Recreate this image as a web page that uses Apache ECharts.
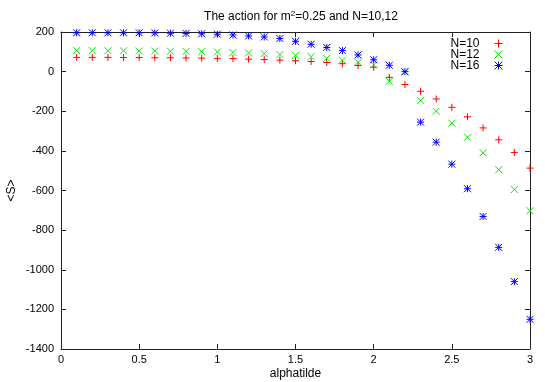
<!DOCTYPE html>
<html>
<head>
<meta charset="utf-8">
<script src="https://cdn.jsdelivr.net/npm/echarts@6/dist/echarts.min.js"></script>
<style>html,body{margin:0;padding:0;background:#fff;}#c{width:545px;height:382px;}</style>
</head>
<body>
<div id="c"></div>
<script>
var alphatilde = [0.1,0.2,0.3,0.4,0.5,0.6,0.7,0.8,0.9,1.0,1.1,1.2,1.3,1.4,1.5,1.6,1.7,1.8,1.9,2.0,2.1,2.2,2.3,2.4,2.5,2.6,2.7,2.8,2.9,3.0];
var sN10 = [72,72,72,71,71,70,70,69,68,67,66,63,61,58,55,51,46,40,31,22,-29,-65,-99,-138,-180,-228,-284,-344,-408,-487];
var sN12 = [106,106,105,105,104,104,103,102,101,99,97,94,91,86,82,76,67,58,47,34,-49,-2,-145,-200,-260,-331,-410,-495,-595,-702];
var sN16 = [196,196,196,196,196,195,194,193,191,189,185,180,175,167,153,138,122,106,84,60,32,0,-255,-356,-467,-591,-731,-887,-1060,-1250];
var xTicks = {min:0, max:3, step:0.5};
var yTicks = {min:-1400, max:200, step:200};
var seriesNames = ['N=10','N=12','N=16'];

function pairs(ys){ return alphatilde.map(function(x,i){ return [x, ys[i]]; }); }

var plus = 'path://M0,-1L0,1M-1,0L1,0';
var cross = 'path://M-1,-1L1,1M-1,1L1,-1';
var star = 'path://M0,-1L0,1M-1,0L1,0M-1,-1L1,1M-1,1L1,-1';

var font = 'Liberation Sans';
var axisColor = '#222';

var chart = echarts.init(document.getElementById('c'));
function mk(name, ys, sym, color, size){
  return {
    name: name, type: 'scatter', data: pairs(ys), symbol: sym, symbolSize: size,
    itemStyle: {color: 'none', borderColor: color, borderWidth: 1, opacity: 1},
    emphasis: {disabled: true}, animation: false
  };
}
function axisCommon(){
  return {
    axisLine: {show: true, onZero: false, lineStyle: {color: axisColor, width: 1}},
    axisTick: {show: true, inside: true, length: 5, lineStyle: {color: axisColor}},
    splitLine: {show: false}
  };
}
chart.setOption({
  animation: false,
  title: {
    text: 'The action for m{sup|2}=0.25 and N=10,12',
    left: 296, top: 5, textAlign: 'center',
    textStyle: {fontFamily: font, fontSize: 12, fontWeight: 'normal', color: '#000',
      rich: {sup: {fontSize: 8, verticalAlign: 'top', padding:[0,0,6,0], fontFamily: font, color:'#000'}}}
  },
  legend: {
    orient: 'vertical', align: 'right', right: 35, top: 32,
    itemWidth: 8, itemHeight: 8, itemGap: -2,
    data: seriesNames,
    itemStyle: {borderWidth: 1},
    textStyle: {fontFamily: font, fontSize: 12, color: '#000', padding: [0, 10, 0, 0]},
    selectedMode: false
  },
  grid: {left: 61, right: 15, top: 32, bottom: 33, containLabel: false, outerBoundsMode: 'none'},
  xAxis: [Object.assign(axisCommon(), {
    type: 'value', min: xTicks.min, max: xTicks.max, interval: xTicks.step,
    name: 'alphatilde', nameLocation: 'middle', nameGap: 19, nameMoveOverlap: false,
    nameTextStyle: {fontFamily: font, fontSize: 12, color: '#000'},
    axisLabel: {fontFamily: font, fontSize: 11, color: '#000', margin: 5}
  }), Object.assign(axisCommon(), {
    type: 'value', position: 'top', min: xTicks.min, max: xTicks.max, interval: xTicks.step,
    axisLabel: {show: false}
  })],
  yAxis: [Object.assign(axisCommon(), {
    type: 'value', min: yTicks.min, max: yTicks.max, interval: yTicks.step,
    name: '<S>', nameLocation: 'middle', nameGap: 43, nameRotate: 90, nameMoveOverlap: false,
    nameTextStyle: {fontFamily: font, fontSize: 12, color: '#000'},
    axisLabel: {fontFamily: font, fontSize: 11, color: '#000', margin: 7, formatter: function(v){ return String(v); }}
  }), Object.assign(axisCommon(), {
    type: 'value', position: 'right', min: yTicks.min, max: yTicks.max, interval: yTicks.step,
    axisLabel: {show: false}
  })],
  series: [
    mk(seriesNames[0], sN10, plus, '#ff0000', 7),
    mk(seriesNames[1], sN12, cross, '#00ee00', 7),
    mk(seriesNames[2], sN16, star, '#0000ff', 7)
  ]
});
</script>
</body>
</html>
